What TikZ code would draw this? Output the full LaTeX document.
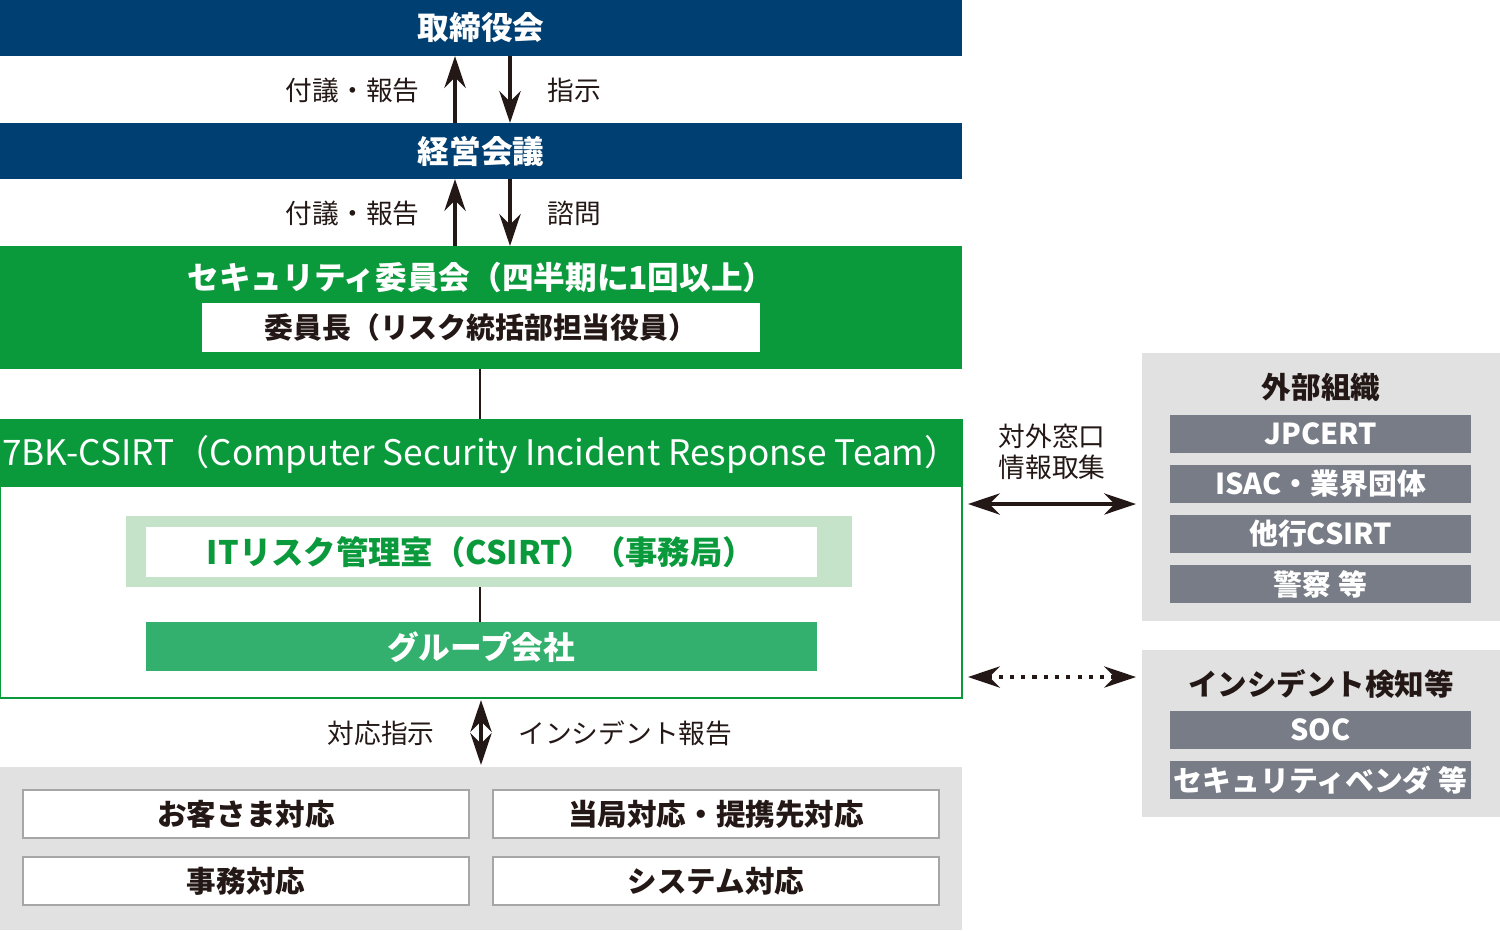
\documentclass[tikz,border=0pt]{standalone}
\usepackage{fontspec}
\setmainfont{Noto Sans CJK JP}
\usetikzlibrary{arrows.meta}
\definecolor{navy}{HTML}{003F72}
\definecolor{csgreen}{HTML}{0A9A3C}
\definecolor{palegreen}{HTML}{C5E3C9}
\definecolor{midgreen}{HTML}{34B06E}
\definecolor{lightgray}{HTML}{E1E1E1}
\definecolor{bargray}{HTML}{787C86}
\definecolor{txt}{HTML}{231815}
\tikzset{>={Stealth[length=9pt,width=6pt]},
  title/.style={font=\fontsize{9}{9}\selectfont\bfseries, text=white},
  lbl/.style={font=\fontsize{7.6}{9}\selectfont, text=txt},
  whitebox/.style={draw=gray!70, fill=white, line width=0.5pt},
  barlbl/.style={font=\fontsize{8.2}{9}\selectfont\bfseries, text=white}}
\begin{document}
\begin{tikzpicture}[x=0.01cm,y=-0.01cm]
    \useasboundingbox (0,0) rectangle (1500,930);
    % board and management
    \fill[navy] (0,0) rectangle (962,56);
    \node[title] (board) at (481,28) {取締役会};
    \fill[navy] (0,123) rectangle (962,179);
    \node[title] (mgmt) at (481,151) {経営会議};
    \draw[->, line width=1.2pt, txt] (455,123) -- (455,56);
    \draw[->, line width=1.2pt, txt] (510,56) -- (510,123);
    \node[lbl, anchor=east] (rep1) at (432,90) {付議・報告};
    \node[lbl, anchor=west] (inst) at (535,90) {指示};
    \draw[->, line width=1.2pt, txt] (455,246) -- (455,179);
    \draw[->, line width=1.2pt, txt] (510,179) -- (510,246);
    \node[lbl, anchor=east] (rep2) at (432,213) {付議・報告};
    \node[lbl, anchor=west] (cons) at (535,213) {諮問};
    % security committee
    \fill[csgreen] (0,246) rectangle (962,369);
    \node[title] (sec) at (481,277) {セキュリティ委員会（四半期に1回以上）};
    \fill[white] (202,303) rectangle (760,352);
    \node[font=\fontsize{8.2}{9}\selectfont\bfseries, text=txt] (chair) at (481,328) {委員長（リスク統括部担当役員）};
    \draw[txt, line width=0.8pt] (480,369) -- (480,420);
    % CSIRT
    \draw[csgreen, fill=white, line width=0.6pt] (0,420) rectangle (962,698);
    \fill[csgreen] (0,420) rectangle (962,487);
    \node[title, font=\fontsize{10}{10}\selectfont] (csirt) at (481,455) {7BK-CSIRT（Computer Security Incident Response Team）};
    \fill[palegreen] (126,516) rectangle (852,587);
    \fill[white] (146,527) rectangle (817,577);
    \node[font=\fontsize{9.2}{10}\selectfont\bfseries, text=csgreen] (itr) at (481,552) {ITリスク管理室（CSIRT）（事務局）};
    \draw[txt, line width=0.8pt] (480,587) -- (480,622);
    \fill[midgreen] (146,622) rectangle (817,671);
    \node[title] (grp) at (481,647) {グループ会社};
    % responses
    \draw[<->, line width=1.2pt, txt] (481,700) -- (481,765);
    \node[lbl, anchor=east] (resp) at (447,733) {対応指示};
    \node[lbl, anchor=west] (inc) at (506,733) {インシデント報告};
    \fill[lightgray] (0,767) rectangle (962,930);
    \foreach \t/\x/\y in {お客さま対応/23/790, 当局対応・提携先対応/493/790, 事務対応/23/857, システム対応/493/857}
      \draw[whitebox] (\x,\y) rectangle ++(446,48) node[midway, font=\fontsize{8.4}{9}\selectfont\bfseries, text=txt] {\t};
    % external
    \fill[lightgray] (1142,353) rectangle (1500,621);
    \node[font=\fontsize{8.4}{9}\selectfont\bfseries, text=txt] (ext) at (1321,387) {外部組織};
    \foreach \t/\y in {JPCERT/415, ISAC・業界団体/465, 他行CSIRT/515, 警察 等/565}
      \fill[bargray] (1170,\y) rectangle ++(301,38) node[midway, barlbl] {\t};
    \fill[lightgray] (1142,650) rectangle (1500,817);
    \node[font=\fontsize{8.4}{9}\selectfont\bfseries, text=txt] (det) at (1321,684) {インシデント検知等};
    \foreach \t/\y in {SOC/711, セキュリティベンダ 等/761}
      \fill[bargray] (1170,\y) rectangle ++(301,38) node[midway, barlbl] {\t};
    \draw[<->, line width=1.2pt, txt] (968,504) -- (1136,504);
    \node[lbl, align=center] (win) at (1052,452) {対外窓口\\情報取集};
    \draw[<->, line width=1.2pt, txt, dotted] (968,677) -- (1136,677);
\end{tikzpicture}
\end{document}
